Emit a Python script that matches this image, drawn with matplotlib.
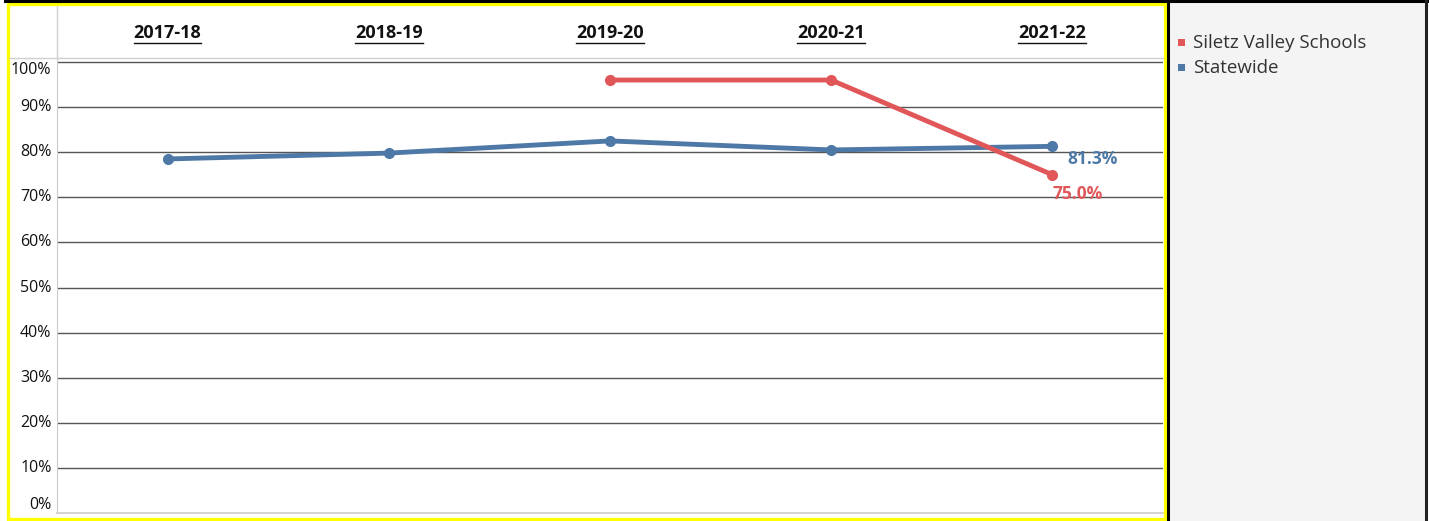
import matplotlib.pyplot as plt
from matplotlib.patches import Rectangle
from matplotlib.lines import Line2D

years = ['2017-18', '2018-19', '2019-20', '2020-21', '2021-22']
statewide = [78.5, 79.8, 82.5, 80.5, 81.3]
siletz_years = ['2019-20', '2020-21', '2021-22']
siletz = [96.0, 96.0, 75.0]
yticks = [0, 10, 20, 30, 40, 50, 60, 70, 80, 90, 100]

RED = '#e15759'
BLUE = '#4e79a7'

W, H = 1429, 521
fig = plt.figure(figsize=(W / 100, H / 100), dpi=100)
plt.rcParams['font.family'] = ['Open Sans', 'DejaVu Sans']


def fx(px):
    return px / W


def fy(py):
    return 1 - py / H


# frames
fig.add_artist(Rectangle((fx(1169), 0), fx(1425) - fx(1169), fy(2), transform=fig.transFigure,
                         facecolor='#f4f4f4', edgecolor='none'))
fig.add_artist(Line2D([fx(5), 1], [fy(1), fy(1)], transform=fig.transFigure, color='black', lw=2.2))
fig.add_artist(Line2D([fx(1168), fx(1168)], [0, fy(1)], transform=fig.transFigure, color='black', lw=2.2))
fig.add_artist(Line2D([fx(1425.5), fx(1425.5)], [0, fy(1)], transform=fig.transFigure, color='#222', lw=2.2))
fig.add_artist(Rectangle((fx(7.5), fy(518.5)), fx(1164.5) - fx(7.5), fy(4) - fy(518.5),
                         transform=fig.transFigure, facecolor='none', edgecolor='#ffff00', lw=2.4))

# main plot
top_px, bot_px, zero_px = 58, 513, 513
ax = fig.add_axes([fx(57), fy(bot_px), fx(1163) - fx(57), fy(top_px) - fy(bot_px)])
per = (513 - 62) / 100.0
ax.set_ylim(0, (zero_px - top_px) / per)
ax.set_xlim(-0.5, len(years) - 0.5)

x_state = list(range(len(years)))
x_sil = [years.index(y) for y in siletz_years]
ax.plot(x_state, statewide, color=BLUE, lw=3.5, marker='o', ms=7, solid_capstyle='round', zorder=3)
ax.plot(x_sil, siletz, color=RED, lw=3.5, marker='o', ms=7, solid_capstyle='round', zorder=4)

for v in yticks[1:]:
    ax.axhline(v, color='#555555', lw=1.0, zorder=1)
ax.set_yticks(yticks)
ax.set_yticklabels([f'{v}%' for v in yticks], fontsize=11.5, color='#111')
ax.tick_params(axis='y', length=0, pad=4)
ax.set_xticks([])
for s in ['top', 'right']:
    ax.spines[s].set_visible(False)
ax.spines['left'].set_color('#cccccc')
ax.spines['bottom'].set_color('#cccccc')
ax.spines['bottom'].set_linewidth(1.2)
labs = ax.get_yticklabels()
for lab in labs:
    lab.set_verticalalignment('center')
labs[0].set_verticalalignment('bottom')
labs[-1].set_verticalalignment('top')

ax.annotate(f'{statewide[-1]:.1f}%', (x_state[-1], statewide[-1]), xytext=(11, -9),
            textcoords='offset points', color=BLUE, fontsize=12.5, fontweight='bold', va='center')
ax.annotate(f'{siletz[-1]:.1f}%', (x_sil[-1], siletz[-1]), xytext=(0, -14),
            textcoords='offset points', color=RED, fontsize=12.5, fontweight='bold', va='center', ha='left')

# header
fig.add_artist(Line2D([fx(9), fx(1163)], [fy(58), fy(58)], transform=fig.transFigure, color='#d0d0d0', lw=1))
fig.add_artist(Line2D([fx(57), fx(57)], [fy(6), fy(58)], transform=fig.transFigure, color='#d0d0d0', lw=1))
renderer = fig.canvas.get_renderer()
for i, yr in enumerate(years):
    xc = ax.transData.transform((i, 0))[0] / W
    t = fig.text(xc, fy(33), yr, ha='center', va='center', fontsize=13, fontweight='bold', color='#111')
    bb = t.get_window_extent(renderer)
    fig.add_artist(Line2D([bb.x0 / W, bb.x1 / W], [(bb.y0 - 0.5) / H, (bb.y0 - 0.5) / H],
                          transform=fig.transFigure, color='#111', lw=1))

# legend
for j, (name, col) in enumerate([('Siletz Valley Schools', RED), ('Statewide', BLUE)]):
    yy = fy(43 + j * 25)
    fig.add_artist(Rectangle((fx(1178), yy - 3.5 / H), 7 / W, 7 / H, transform=fig.transFigure,
                             facecolor=col, edgecolor='none'))
    fig.text(fx(1193), yy, name, ha='left', va='center', fontsize=13.5, color='#333')

fig.savefig('out.png', dpi=100)
